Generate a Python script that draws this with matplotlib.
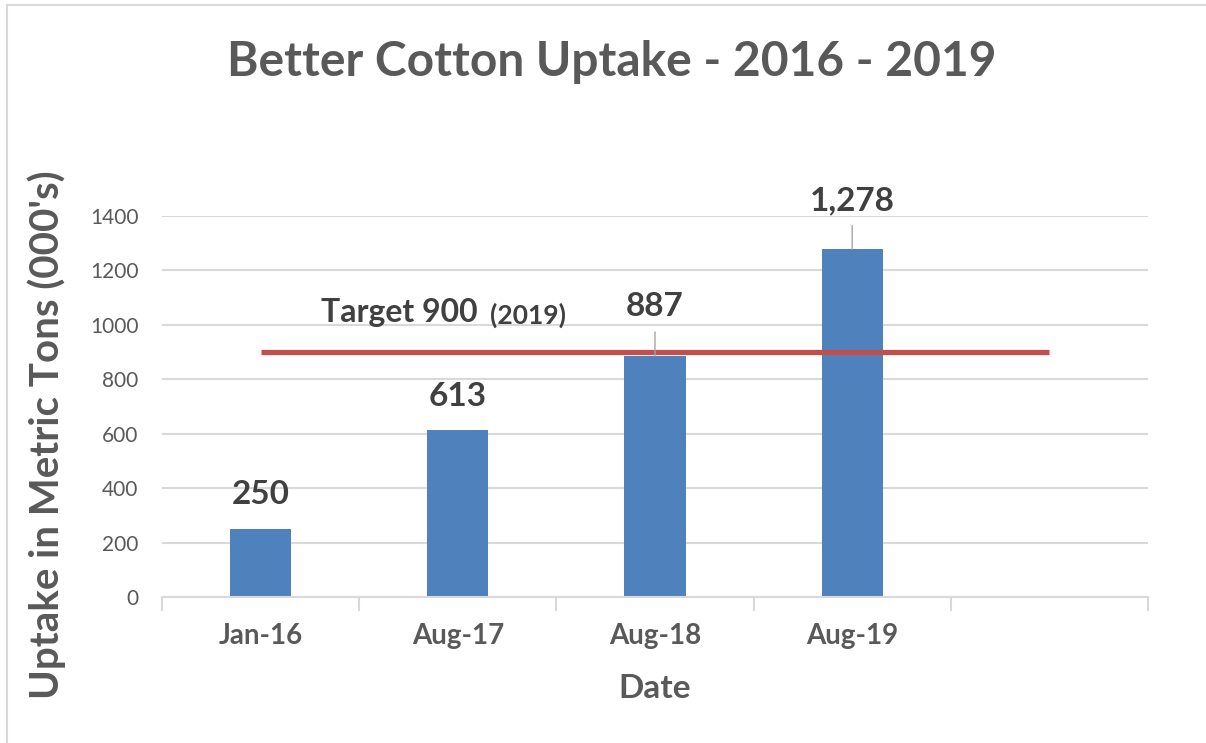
import matplotlib.pyplot as plt
from matplotlib.lines import Line2D

# chart data
dates = ["Jan-16", "Aug-17", "Aug-18", "Aug-19", ""]
uptake = [250, 613, 887, 1278]
value_labels = ["250", "613", "887", "1,278"]
target = 900
target_label = "Target 900"
target_year = "(2019)"
y_ticks = [0, 200, 400, 600, 800, 1000, 1200, 1400]

plt.rcParams['font.family'] = ['Lato', 'DejaVu Sans']

W, H = 1206, 743
fig = plt.figure(figsize=(W / 100, H / 100), dpi=100)
ax = fig.add_axes([162 / W, 1 - 597 / H, (1148 - 162) / W, (597 - 216) / H])

grid_c = "#D9D9D9"
text_c = "#595959"
label_c = "#404040"

# outer chart border (left and top edges visible)
fig.add_artist(Line2D([7 / W, 7 / W], [0, 1 - 5 / H], transform=fig.transFigure, color=grid_c, lw=1.5))
fig.add_artist(Line2D([7 / W, 1], [1 - 5 / H, 1 - 5 / H], transform=fig.transFigure, color=grid_c, lw=1.5))

xs = list(range(len(uptake)))
ax.bar(xs, uptake, width=0.31, color="#4F81BD", zorder=2)

# target line
ax.plot([0, len(dates) - 1], [target, target], color="#C0504D", lw=3.8, zorder=3, solid_capstyle='butt')
ax.annotate(target_label, xy=(0.306, 1044), ha='left', va='center', fontsize=23,
            fontweight='bold', color=label_c, annotation_clip=False)
ax.annotate(target_year, xy=(1.163, 1036), ha='left', va='center', fontsize=19,
            fontweight='bold', color=label_c, annotation_clip=False)

# value labels, the taller bars get a leader line
for x, v, lab in zip(xs, uptake, value_labels):
    if x < 2:
        ax.annotate(lab, xy=(x, v), xytext=(0, 24.5), textcoords='offset points', ha='center',
                    va='center', fontsize=24, fontweight='bold', color=label_c)
        continue
    ax.annotate(lab, xy=(x, v), xytext=(0, 35), textcoords='offset points', ha='center',
                va='center', fontsize=24, fontweight='bold', color=label_c, annotation_clip=False)
    ax.annotate("", xy=(x, v), xytext=(0, 17), textcoords='offset points',
                arrowprops=dict(arrowstyle='-', color="#A6A6A6", lw=1, shrinkA=0, shrinkB=0),
                annotation_clip=False)

ax.set_xlim(-0.5, len(dates) - 0.5)
ax.set_ylim(0, 1400)
ax.set_yticks(y_ticks)
ax.set_yticklabels([str(t) for t in y_ticks], fontsize=15, color=text_c)
ax.set_xticks(range(len(dates)))
ax.set_xticklabels(dates, fontsize=20, fontweight='bold', color=text_c)
ax.set_xticks([i - 0.5 for i in range(len(dates) + 1)], minor=True)
ax.tick_params(axis='x', which='major', length=0, pad=19)
ax.tick_params(axis='x', which='minor', length=10, color=grid_c, width=1.5)
ax.tick_params(axis='y', length=0, pad=17)

ax.grid(axis='y', color=grid_c, lw=1.5, zorder=0)
ax.set_axisbelow(True)
for s in ['top', 'right', 'left']:
    ax.spines[s].set_visible(False)
ax.spines['bottom'].set_color(grid_c)
ax.spines['bottom'].set_linewidth(1.5)

fig.text(655 / W, 1 - 688 / H, "Date", ha='center', va='center',
         fontsize=24, fontweight='bold', color=text_c)
fig.text(47 / W, 1 - 435 / H, "Uptake in Metric Tons (000's)", ha='center', va='center',
         rotation=90, fontsize=29, fontweight='bold', color=text_c)
fig.text(612 / W, 1 - 62 / H, "Better Cotton Uptake - 2016 - 2019", ha='center', va='center',
         fontsize=34.5, fontweight='bold', color=text_c)

fig.savefig("out.png", dpi=100, facecolor='white')
